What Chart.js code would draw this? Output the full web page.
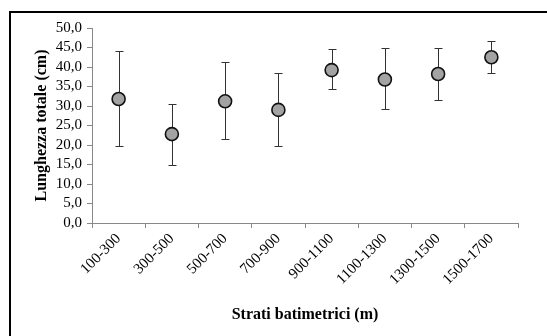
<!DOCTYPE html>
<html>
<head>
<meta charset="utf-8">
<script src="https://cdn.jsdelivr.net/npm/chart.js@4"></script>
<style>
  html, body { margin: 0; padding: 0; background: #fff; }
  #wrap { width: 547px; height: 336px; position: relative; }
</style>
</head>
<body>
<div id="wrap"><canvas id="c" width="547" height="336"></canvas></div>
<script>
const categories = ['100-300','300-500','500-700','700-900','900-1100','1100-1300','1300-1500','1500-1700'];
const means      = [31.8, 22.8, 31.2, 29.0, 39.2, 36.8, 38.2, 42.5];
const upper      = [44.2, 30.6, 41.4, 38.4, 44.5, 44.9, 44.8, 46.6];
const lower      = [19.8, 14.9, 21.5, 19.8, 34.3, 29.2, 31.6, 38.5];
const yTitle = 'Lunghezza totale (cm)';
const xTitle = 'Strati batimetrici (m)';

const errorBars = {
  id: 'errorBars',
  beforeDatasetsDraw(chart) {
    const ctx = chart.ctx, xs = chart.scales.x, ys = chart.scales.y;
    ctx.save();
    ctx.strokeStyle = '#333';
    ctx.lineWidth = 1;
    for (let i = 0; i < means.length; i++) {
      const x = Math.round(xs.getPixelForValue(i)) + 0.5;
      const yt = Math.round(ys.getPixelForValue(upper[i])) + 0.5;
      const yb = Math.round(ys.getPixelForValue(lower[i])) + 0.5;
      ctx.beginPath();
      ctx.moveTo(x, yt); ctx.lineTo(x, yb);
      ctx.moveTo(x - 4, yt); ctx.lineTo(x + 4, yt);
      ctx.moveTo(x - 4, yb); ctx.lineTo(x + 4, yb);
      ctx.stroke();
    }
    ctx.restore();
  }
};

const frame = {
  id: 'frame',
  beforeDraw(chart) {
    const ctx = chart.ctx;
    ctx.save();
    ctx.fillStyle = '#fff';
    ctx.fillRect(0, 0, chart.width, chart.height);
    ctx.strokeStyle = '#000';
    ctx.lineWidth = 2;
    ctx.beginPath();
    ctx.moveTo(10, chart.height + 5);
    ctx.lineTo(10, 12);
    ctx.lineTo(chart.width + 5, 12);
    ctx.stroke();
    ctx.restore();
  }
};

new Chart(document.getElementById('c'), {
  type: 'line',
  data: {
    labels: categories,
    datasets: [{
      data: means,
      showLine: false,
      pointRadius: 6.5,
      pointHoverRadius: 6.5,
      pointBackgroundColor: '#a3a3a3',
      pointBorderColor: '#111',
      pointBorderWidth: 1.6
    }]
  },
  plugins: [frame, errorBars],
  options: {
    responsive: false,
    animation: false,
    events: [],
    layout: { padding: { left: 28, right: 29, top: 28, bottom: 8 } },
    plugins: { legend: { display: false }, tooltip: { enabled: false } },
    scales: {
      x: {
        offset: true,
        grid: { offset: true, drawOnChartArea: false, drawTicks: true, tickLength: 5, color: '#888' },
        border: { color: '#888', width: 1 },
        ticks: {
          maxRotation: 45, minRotation: 45, autoSkip: false, padding: 2,
          color: '#000', font: { family: 'Liberation Serif', size: 15 }
        },
        title: {
          display: true, text: xTitle, color: '#000',
          font: { family: 'Liberation Serif', size: 16, weight: 'bold' },
          padding: { top: 4, bottom: 4 }
        },
        afterFit(s) { s.height = 336 - 223 - 8; }
      },
      y: {
        min: 0, max: 50,
        grid: { drawOnChartArea: false, drawTicks: true, tickLength: 5, color: '#888' },
        border: { color: '#888', width: 1 },
        ticks: {
          stepSize: 5, autoSkip: false, padding: 5, color: '#000',
          font: { family: 'Liberation Serif', size: 15 },
          callback: v => Number(v).toFixed(1).replace('.', ',')
        },
        title: {
          display: true, text: yTitle, color: '#000',
          font: { family: 'Liberation Serif', size: 16, weight: 'bold' },
          padding: { top: 4, bottom: 4 }
        },
        afterFit(s) { s.width = 92 - 28; }
      }
    }
  }
});
</script>
</body>
</html>
